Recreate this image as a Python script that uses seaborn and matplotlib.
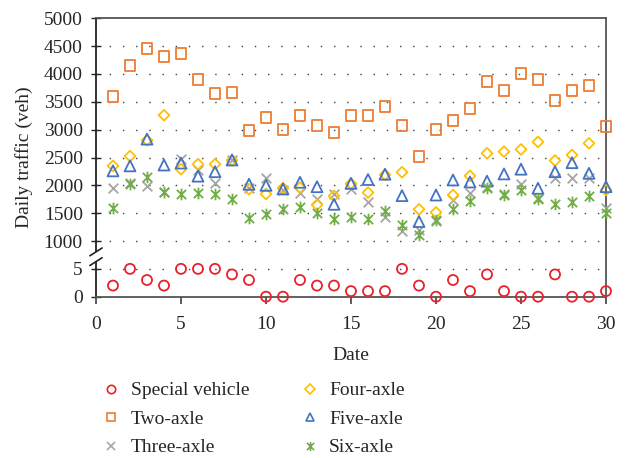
import numpy as np
import pandas as pd
import matplotlib
matplotlib.use("Agg")
import matplotlib.pyplot as plt
from matplotlib.path import Path
from matplotlib.lines import Line2D
from matplotlib.ticker import FixedLocator, FixedFormatter
import seaborn as sns

# Daily traffic by vehicle class over a 30-day period
dates = list(range(1, 31))
special_vehicle = [2, 5, 3, 2, 5, 5, 5, 4, 3, 0, 0, 3, 2, 2, 1, 1, 1, 5, 2, 0,
                   3, 1, 4, 1, 0, 0, 4, 0, 0, 1]
two_axle = [3590, 4150, 4450, 4320, 4370, 3900, 3650, 3660, 2980, 3220,
            3010, 3250, 3070, 2950, 3250, 3250, 3410, 3080, 2520, 3000,
            3170, 3380, 3860, 3710, 4010, 3900, 3530, 3710, 3790, 3050]
three_axle = [1960, 2050, 1990, 1880, 2480, 2275, 2035, 2450, 1950, 2140,
              1920, 1860, 1750, 1850, 1935, 1705, 1440, 1185, 1190, 1360,
              1730, 1870, 1970, 1840, 2020, 1770, 2130, 2130, 2130, 1590]
four_axle = [2350, 2525, 2810, 3260, 2290, 2380, 2380, 2450, 1930, 1845,
             1950, 1960, 1650, 1810, 2030, 1870, 2190, 2235, 1570, 1515,
             1826, 2170, 2575, 2605, 2645, 2780, 2445, 2545, 2755, 1915]
five_axle = [2260, 2350, 2830, 2365, 2400, 2165, 2245, 2455, 2020, 2000,
             1935, 2055, 1975, 1660, 2035, 2105, 2200, 1815, 1350, 1826,
             2096, 2060, 2075, 2205, 2290, 1947, 2245, 2407, 2216, 1976]
six_axle = [1600, 2020, 2145, 1875, 1840, 1868, 1850, 1750, 1408, 1490,
            1570, 1616, 1498, 1390, 1437, 1390, 1545, 1295, 1108, 1375,
            1580, 1715, 1958, 1827, 1916, 1757, 1659, 1706, 1808, 1509]

labels = ["Special vehicle", "Two-axle", "Three-axle",
          "Four-axle", "Five-axle", "Six-axle"]
y_ticks = [0, 5, 1000, 1500, 2000, 2500, 3000, 3500, 4000, 4500, 5000]
x_ticks = [0, 5, 10, 15, 20, 25, 30]

# Excel-style star: an X with a vertical bar through it
star = Path([(-0.8, -0.8), (0.8, 0.8), (-0.8, 0.8), (0.8, -0.8), (0, -1), (0, 1)],
            [Path.MOVETO, Path.LINETO, Path.MOVETO, Path.LINETO, Path.MOVETO, Path.LINETO])

styles = [
    # color, marker, hollow, scatter size, legend size
    ("#E8212B", "o", True, 52, 6.0),
    ("#ED7D31", "s", True, 62, 6.0),
    ("#A5A5A5", "x", False, 48, 6.0),
    ("#FFC000", "D", True, 30, 4.6),
    ("#4472C4", "^", True, 62, 6.0),
    ("#70AD47", star, False, 70, 6.5),
]

df = pd.DataFrame({"Date": dates,
                   labels[0]: special_vehicle, labels[1]: two_axle,
                   labels[2]: three_axle, labels[3]: four_axle,
                   labels[4]: five_axle, labels[5]: six_axle})
long = df.melt(id_vars="Date", var_name="Type", value_name="Traffic")

sns.set_style("white")
plt.rcParams["font.family"] = ["Liberation Serif", "DejaVu Serif"]
plt.rcParams["font.size"] = 14

fig = plt.figure(figsize=(6.32, 4.58), dpi=100)
ax = fig.add_axes([96 / 632, 1 - 296.7 / 458, 510 / 632, 278.4 / 458])


# broken axis: 0-5 fills the bottom band, 5-1000 is squeezed into one band,
# and 1000+ is linear above it
def fwd(v):
    v = np.asarray(v, dtype=float)
    return np.where(v <= 5, v * 100.0,
                    np.where(v < 1000, 500.0 + (v - 5.0) * 500.0 / 995.0, v))


def inv(u):
    u = np.asarray(u, dtype=float)
    return np.where(u <= 500, u / 100.0,
                    np.where(u < 1000, 5.0 + (u - 500.0) * 995.0 / 500.0, u))


ax.set_yscale("function", functions=(fwd, inv))

for label, (color, marker, hollow, size, _) in zip(labels, styles):
    sub = long[long["Type"] == label]
    n_before = len(ax.collections)
    sns.scatterplot(data=sub, x="Date", y="Traffic", marker=marker, s=size,
                    color=color, ax=ax, legend=False, clip_on=False, zorder=3)
    coll = ax.collections[n_before]
    coll.set_facecolor("none" if hollow else color)
    coll.set_edgecolor(color)
    coll.set_linewidth(1.3)

ax.set_xlim(0, 30)
ax.set_ylim(0, 5000)
ax.xaxis.set_major_locator(FixedLocator(x_ticks))
ax.yaxis.set_major_locator(FixedLocator(y_ticks))
ax.yaxis.set_major_formatter(FixedFormatter([str(t) for t in y_ticks]))
ax.yaxis.set_minor_locator(FixedLocator([]))

# dotted horizontal gridlines at the inner ticks
for t in y_ticks[1:-1]:
    ax.axhline(t, color="#404040", linewidth=1.0, linestyle=(0, (1, 8.5)), zorder=1)

ax.tick_params(axis="x", direction="out", length=5, width=1.2, color="#404040",
               pad=9, labelsize=14, bottom=True)
ax.tick_params(axis="y", direction="inout", length=7, width=1.0, color="#222222",
               pad=6, labelsize=14, left=True)

for side in ["top", "right", "bottom"]:
    ax.spines[side].set_color("#555555")
    ax.spines[side].set_linewidth(1.3)
ax.spines["left"].set_visible(False)

# left spine drawn in two pieces with break marks between them
tr = ax.transAxes
b_top, b_bot = 0.164, 0.123
ax.add_line(Line2D([0, 0], [b_top, 1], transform=tr, color="#222222",
                   linewidth=1.3, clip_on=False))
ax.add_line(Line2D([0, 0], [0, b_bot], transform=tr, color="#222222",
                   linewidth=1.3, clip_on=False))
dx, dy = 0.012, 0.014
for yc in (b_top - 0.003, b_bot + 0.003):
    ax.add_line(Line2D([-dx, dx], [yc - dy, yc + dy], transform=tr,
                       color="#222222", linewidth=1.2, clip_on=False))

ax.set_xlabel("Date", fontsize=14, labelpad=10)
ax.set_ylabel("Daily traffic (veh)", fontsize=14, labelpad=8)

handles = []
for label, (color, marker, hollow, size, lsize) in zip(labels, styles):
    handles.append(Line2D([], [], linestyle="none", marker=marker,
                          markersize=lsize, markeredgewidth=1.2,
                          markerfacecolor="none" if hollow else color,
                          markeredgecolor=color))
fig.legend(handles, labels, ncol=2, loc="upper left",
           bbox_to_anchor=(92 / 632, 1 - 372 / 458), frameon=False,
           fontsize=14, handlelength=1.0, handletextpad=0.5,
           columnspacing=2.6, labelspacing=0.56, borderpad=0)

fig.savefig("out.png", dpi=100, facecolor="white")
